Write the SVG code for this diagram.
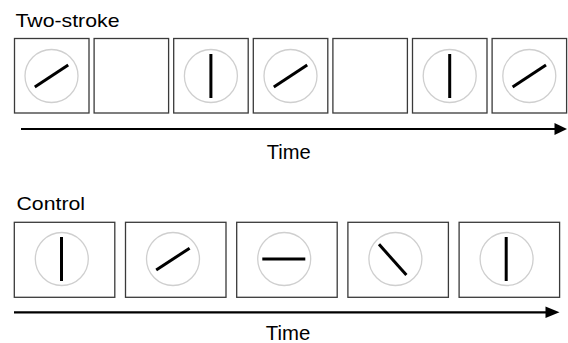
<svg xmlns="http://www.w3.org/2000/svg" width="568" height="343" viewBox="0 0 568 343">
<style>
.box{fill:#fff;stroke:#3a3a3a;stroke-width:1.3}
.dial{fill:none;stroke:#cfcfcf;stroke-width:1.3}
.bar{stroke:#000;stroke-width:3;stroke-linecap:butt}
.axis{stroke:#000;stroke-width:2.2}
.head{fill:#000}
text{font-family:"Liberation Sans",Arial,Helvetica,sans-serif;fill:#000}
.title{font-size:19px}
.lbl{font-size:19.5px}
</style>
<rect width="568" height="343" fill="#fff"/>
<text class="title" x="15.5" y="27" textLength="104" lengthAdjust="spacingAndGlyphs">Two-stroke</text>
<g id="ts1"><rect class="box" x="14.5" y="38.5" width="74.5" height="74.5"/><circle class="dial" cx="51.5" cy="76" r="26.5"/><line class="bar" x1="34.8" y1="86.9" x2="68.2" y2="65.1"/></g>
<g id="ts2"><rect class="box" x="94.1" y="38.5" width="74.5" height="74.5"/></g>
<g id="ts3"><rect class="box" x="173.7" y="38.5" width="74.5" height="74.5"/><circle class="dial" cx="210.9" cy="76" r="26.5"/><line class="bar" x1="210.9" y1="54" x2="210.9" y2="98"/></g>
<g id="ts4"><rect class="box" x="253.3" y="38.5" width="74.5" height="74.5"/><circle class="dial" cx="290.5" cy="76" r="26.5"/><line class="bar" x1="273.8" y1="86.9" x2="307.2" y2="65.1"/></g>
<g id="ts5"><rect class="box" x="332.9" y="38.5" width="74.5" height="74.5"/></g>
<g id="ts6"><rect class="box" x="412.5" y="38.5" width="74.5" height="74.5"/><circle class="dial" cx="449.7" cy="76" r="26.5"/><line class="bar" x1="449.7" y1="54" x2="449.7" y2="98"/></g>
<g id="ts7"><rect class="box" x="492.1" y="38.5" width="74.5" height="74.5"/><circle class="dial" cx="529.3" cy="76" r="26.5"/><line class="bar" x1="512.6" y1="86.9" x2="546" y2="65.1"/></g>
<text class="lbl" x="266.7" y="159" textLength="44" lengthAdjust="spacingAndGlyphs">Time</text>
<text class="title" x="16.5" y="210" textLength="68.5" lengthAdjust="spacingAndGlyphs">Control</text>
<g id="c1"><rect class="box" x="14.3" y="222.3" width="100.5" height="75"/><circle class="dial" cx="61.8" cy="259" r="26.5"/><line class="bar" x1="61.5" y1="237" x2="61.5" y2="281"/></g>
<g id="c2"><rect class="box" x="125.5" y="222.3" width="100.5" height="75"/><circle class="dial" cx="173" cy="259" r="26.5"/><line class="bar" x1="156.2" y1="270" x2="189.6" y2="248.2"/></g>
<g id="c3"><rect class="box" x="236.7" y="222.3" width="100.5" height="75"/><circle class="dial" cx="284.2" cy="259" r="26.5"/><line class="bar" x1="262.3" y1="259" x2="305.3" y2="259"/></g>
<g id="c4"><rect class="box" x="347.9" y="222.3" width="100.5" height="75"/><circle class="dial" cx="395.4" cy="259" r="26.5"/><line class="bar" x1="379" y1="244.3" x2="406.4" y2="275.1"/></g>
<g id="c5"><rect class="box" x="459.1" y="222.3" width="100.5" height="75"/><circle class="dial" cx="506.6" cy="259" r="26.5"/><line class="bar" x1="506.2" y1="237" x2="506.2" y2="281"/></g>
<text class="lbl" x="265.8" y="340" textLength="44.5" lengthAdjust="spacingAndGlyphs">Time</text>
<g id="connectors">
<line class="axis" x1="21" y1="129" x2="556" y2="129"/>
<polygon class="head" points="554.5,123 567,129 554.5,135"/>
<line class="axis" x1="14" y1="312.3" x2="547" y2="312.3"/>
<polygon class="head" points="545.5,306.5 559.5,312.3 545.5,318.1"/>
</g>
</svg>
